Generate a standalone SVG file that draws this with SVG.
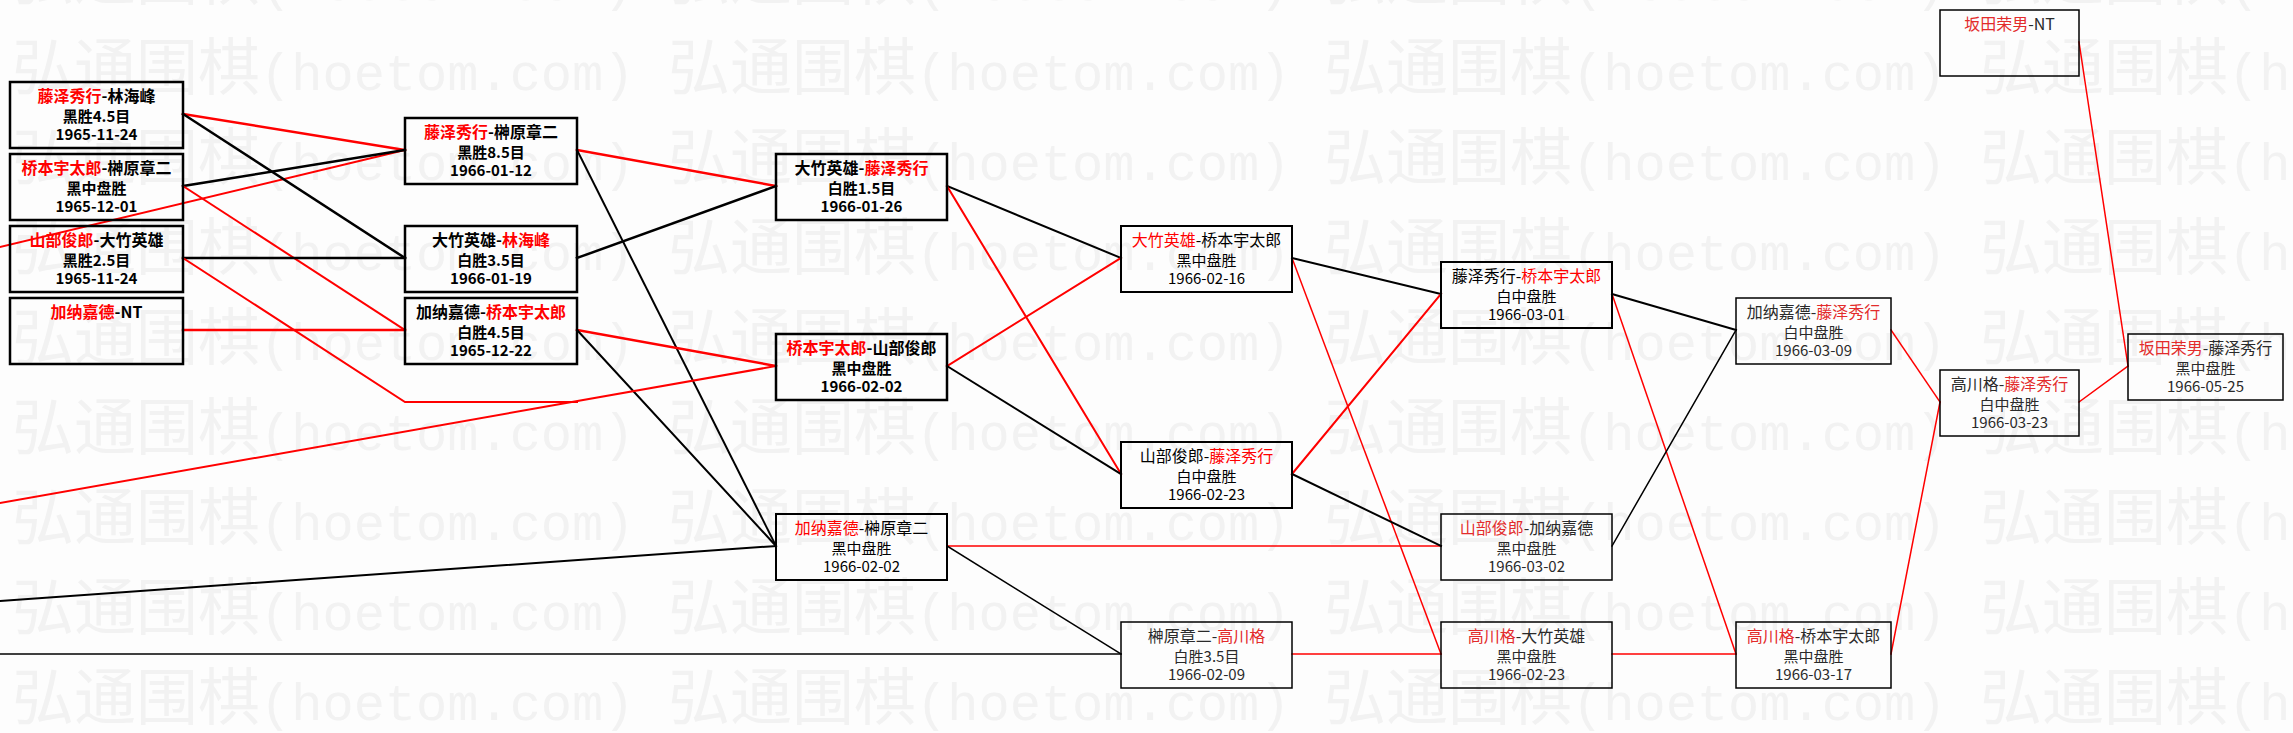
<svg xmlns="http://www.w3.org/2000/svg" width="2293" height="733" viewBox="0 0 2293 733">
<style>
text{font-family:"Noto Sans CJK SC","Noto Sans CJK JP",sans-serif;font-size:15px;text-anchor:middle}
text.h{font-size:16px}
.wm{font-size:62px;fill:#f2f2f2;text-anchor:start;font-weight:normal}
.wm tspan{font-family:"Liberation Mono",monospace;font-size:52px}
.node rect{fill:none;stroke:#000}
.n1 rect{stroke-width:2.5}
.n2 rect{stroke-width:2}
.n3 rect{stroke-width:1.5}
.n1 text{font-weight:bold;fill:#000}
.n2 text{fill:#000}
.n3 text{fill:#2a2a2a}
.n1 .r,.n2 .r{fill:#f00}
.n3 .r{fill:#e32b2b}
#connectors line,#connectors polyline{fill:none;stroke-linecap:square}
.k{stroke:#000}
.red{stroke:#f00}
.w25{stroke-width:2.5}
.w2{stroke-width:2}
.w15{stroke-width:1.5}
</style>
<defs>
<pattern id="wmp" patternUnits="userSpaceOnUse" x="12" y="30" width="656" height="90">
<text class="wm" x="0" y="60">弘通围棋<tspan>(hoetom.com)</tspan></text>
</pattern>
</defs>
<rect width="2293" height="733" fill="#fdfdfd"/>
<rect width="2293" height="733" fill="url(#wmp)"/>

<g id="connectors">
<line class="red w2" x1="0" y1="247" x2="405" y2="150"/>
<line class="red w25" x1="183" y1="114" x2="405" y2="150"/>
<line class="k w25" x1="183" y1="114" x2="405" y2="258"/>
<line class="k w25" x1="183" y1="186" x2="405" y2="150"/>
<line class="red w2" x1="183" y1="186" x2="405" y2="330"/>
<line class="k w25" x1="183" y1="258" x2="405" y2="258"/>
<polyline class="red w2" points="183,258 405,402 577,402"/>
<line class="red w25" x1="183" y1="330" x2="405" y2="330"/>
<line class="red w25" x1="577" y1="150" x2="776" y2="186"/>
<line class="k w2" x1="577" y1="150" x2="776" y2="546"/>
<line class="k w25" x1="577" y1="258" x2="776" y2="186"/>
<line class="red w25" x1="577" y1="330" x2="776" y2="366"/>
<line class="k w2" x1="577" y1="330" x2="776" y2="546"/>
<line class="red w2" x1="0" y1="503" x2="776" y2="366"/>
<line class="k w2" x1="0" y1="601" x2="776" y2="546"/>
<line class="k w15" x1="0" y1="654" x2="1121" y2="654"/>
<line class="k w2" x1="947" y1="186" x2="1121" y2="258"/>
<line class="red w2" x1="947" y1="186" x2="1121" y2="474"/>
<line class="red w2" x1="947" y1="366" x2="1121" y2="258"/>
<line class="k w2" x1="947" y1="366" x2="1121" y2="474"/>
<line class="red w15" x1="947" y1="546" x2="1441" y2="546"/>
<line class="k w15" x1="947" y1="546" x2="1121" y2="654"/>
<line class="k w2" x1="1292" y1="258" x2="1441" y2="294"/>
<line class="red w15" x1="1292" y1="258" x2="1441" y2="654"/>
<line class="red w2" x1="1292" y1="474" x2="1441" y2="294"/>
<line class="k w2" x1="1292" y1="474" x2="1441" y2="546"/>
<line class="red w15" x1="1292" y1="654" x2="1441" y2="654"/>
<line class="k w2" x1="1612" y1="294" x2="1736" y2="330"/>
<line class="red w15" x1="1612" y1="294" x2="1736" y2="654"/>
<line class="k w15" x1="1612" y1="546" x2="1736" y2="330"/>
<line class="red w15" x1="1612" y1="654" x2="1736" y2="654"/>
<line class="red w15" x1="1891" y1="330" x2="1940" y2="402"/>
<line class="red w15" x1="1891" y1="654" x2="1940" y2="402"/>
<line class="red w15" x1="2079" y1="402" x2="2128" y2="366"/>
<line class="red w15" x1="2079" y1="42" x2="2128" y2="366"/>
</g>

<g id="nA" class="node n1"><rect x="10" y="82" width="173" height="66"/>
<text class="h" x="96.5" y="102"><tspan class="r">藤泽秀行</tspan>-林海峰</text>
<text x="96.5" y="122">黑胜4.5目</text><text x="96.5" y="140">1965-11-24</text></g>
<g id="nB" class="node n1"><rect x="10" y="154" width="173" height="66"/>
<text class="h" x="96.5" y="174"><tspan class="r">桥本宇太郎</tspan>-榊原章二</text>
<text x="96.5" y="194">黑中盘胜</text><text x="96.5" y="212">1965-12-01</text></g>
<g id="nC" class="node n1"><rect x="10" y="226" width="173" height="66"/>
<text class="h" x="96.5" y="246"><tspan class="r">山部俊郎</tspan>-大竹英雄</text>
<text x="96.5" y="266">黑胜2.5目</text><text x="96.5" y="284">1965-11-24</text></g>
<g id="nD" class="node n1"><rect x="10" y="298" width="173" height="66"/>
<text class="h" x="96.5" y="318"><tspan class="r">加纳嘉德</tspan>-NT</text></g>

<g id="nP1" class="node n1"><rect x="405" y="118" width="172" height="66"/>
<text class="h" x="491" y="138"><tspan class="r">藤泽秀行</tspan>-榊原章二</text>
<text x="491" y="158">黑胜8.5目</text><text x="491" y="176">1966-01-12</text></g>
<g id="nP2" class="node n1"><rect x="405" y="226" width="172" height="66"/>
<text class="h" x="491" y="246">大竹英雄-<tspan class="r">林海峰</tspan></text>
<text x="491" y="266">白胜3.5目</text><text x="491" y="284">1966-01-19</text></g>
<g id="nP3" class="node n1"><rect x="405" y="298" width="172" height="66"/>
<text class="h" x="491" y="318">加纳嘉德-<tspan class="r">桥本宇太郎</tspan></text>
<text x="491" y="338">白胜4.5目</text><text x="491" y="356">1965-12-22</text></g>

<g id="nQ1" class="node n1"><rect x="776" y="154" width="171" height="66"/>
<text class="h" x="861.5" y="174">大竹英雄-<tspan class="r">藤泽秀行</tspan></text>
<text x="861.5" y="194">白胜1.5目</text><text x="861.5" y="212">1966-01-26</text></g>
<g id="nQ2" class="node n1"><rect x="776" y="334" width="171" height="66"/>
<text class="h" x="861.5" y="354"><tspan class="r">桥本宇太郎</tspan>-山部俊郎</text>
<text x="861.5" y="374">黑中盘胜</text><text x="861.5" y="392">1966-02-02</text></g>
<g id="nQ3" class="node n2"><rect x="776" y="514" width="171" height="66"/>
<text class="h" x="861.5" y="534"><tspan class="r">加纳嘉德</tspan>-榊原章二</text>
<text x="861.5" y="554">黑中盘胜</text><text x="861.5" y="572">1966-02-02</text></g>

<g id="nR1" class="node n2"><rect x="1121" y="226" width="171" height="66"/>
<text class="h" x="1206.5" y="246"><tspan class="r">大竹英雄</tspan>-桥本宇太郎</text>
<text x="1206.5" y="266">黑中盘胜</text><text x="1206.5" y="284">1966-02-16</text></g>
<g id="nR2" class="node n2"><rect x="1121" y="442" width="171" height="66"/>
<text class="h" x="1206.5" y="462">山部俊郎-<tspan class="r">藤泽秀行</tspan></text>
<text x="1206.5" y="482">白中盘胜</text><text x="1206.5" y="500">1966-02-23</text></g>
<g id="nR3" class="node n3"><rect x="1121" y="622" width="171" height="66"/>
<text class="h" x="1206.5" y="642">榊原章二-<tspan class="r">高川格</tspan></text>
<text x="1206.5" y="662">白胜3.5目</text><text x="1206.5" y="680">1966-02-09</text></g>

<g id="nS1" class="node n2"><rect x="1441" y="262" width="171" height="66"/>
<text class="h" x="1526.5" y="282">藤泽秀行-<tspan class="r">桥本宇太郎</tspan></text>
<text x="1526.5" y="302">白中盘胜</text><text x="1526.5" y="320">1966-03-01</text></g>
<g id="nS2" class="node n3"><rect x="1441" y="514" width="171" height="66"/>
<text class="h" x="1526.5" y="534"><tspan class="r">山部俊郎</tspan>-加纳嘉德</text>
<text x="1526.5" y="554">黑中盘胜</text><text x="1526.5" y="572">1966-03-02</text></g>
<g id="nS3" class="node n3"><rect x="1441" y="622" width="171" height="66"/>
<text class="h" x="1526.5" y="642"><tspan class="r">高川格</tspan>-大竹英雄</text>
<text x="1526.5" y="662">黑中盘胜</text><text x="1526.5" y="680">1966-02-23</text></g>

<g id="nT1" class="node n3"><rect x="1736" y="298" width="155" height="66"/>
<text class="h" x="1813.5" y="318">加纳嘉德-<tspan class="r">藤泽秀行</tspan></text>
<text x="1813.5" y="338">白中盘胜</text><text x="1813.5" y="356">1966-03-09</text></g>
<g id="nT2" class="node n3"><rect x="1736" y="622" width="155" height="66"/>
<text class="h" x="1813.5" y="642"><tspan class="r">高川格</tspan>-桥本宇太郎</text>
<text x="1813.5" y="662">黑中盘胜</text><text x="1813.5" y="680">1966-03-17</text></g>

<g id="nU" class="node n3"><rect x="1940" y="370" width="139" height="66"/>
<text class="h" x="2009.5" y="390">高川格-<tspan class="r">藤泽秀行</tspan></text>
<text x="2009.5" y="410">白中盘胜</text><text x="2009.5" y="428">1966-03-23</text></g>
<g id="nV" class="node n3"><rect x="1940" y="10" width="139" height="66"/>
<text class="h" x="2009.5" y="30"><tspan class="r">坂田荣男</tspan>-NT</text></g>
<g id="nW" class="node n3"><rect x="2128" y="334" width="155" height="66"/>
<text class="h" x="2205.5" y="354"><tspan class="r">坂田荣男</tspan>-藤泽秀行</text>
<text x="2205.5" y="374">黑中盘胜</text><text x="2205.5" y="392">1966-05-25</text></g>
</svg>
